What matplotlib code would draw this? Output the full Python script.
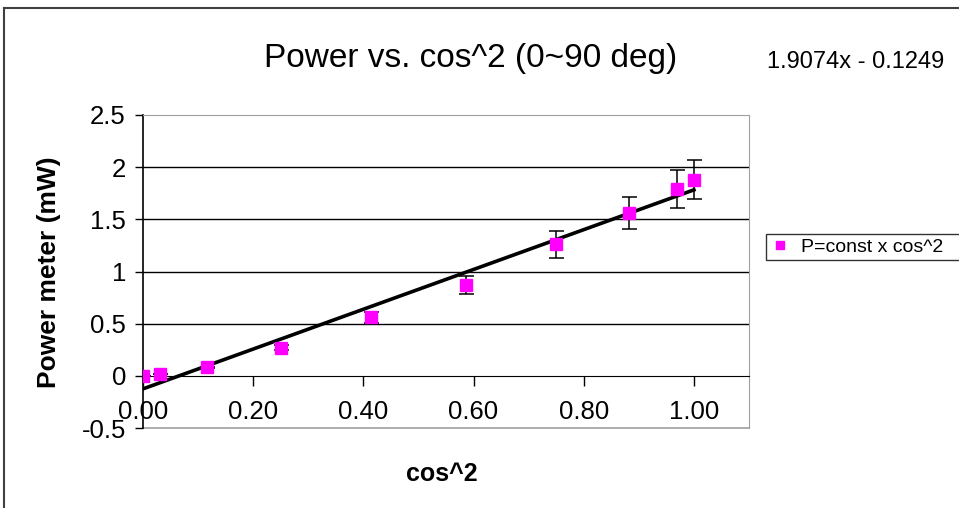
import numpy as np
import matplotlib
matplotlib.use("Agg")
import matplotlib.pyplot as plt
from matplotlib.lines import Line2D

plt.rcParams.update({
    "font.family": ["Liberation Sans", "DejaVu Sans"],
    "figure.facecolor": "white", "axes.facecolor": "white",
})

# cos^2 of 90, 80, ..., 0 degrees and the measured power (mW)
cos2 = [0.0, 0.030, 0.117, 0.250, 0.413, 0.587, 0.750, 0.883, 0.970, 1.000]
power = [0.00, 0.02, 0.08, 0.27, 0.56, 0.87, 1.26, 1.56, 1.79, 1.88]
power_err = [0.0, 0.002, 0.008, 0.027, 0.056, 0.087, 0.126, 0.156, 0.179, 0.188]
fit_coef = [1.9074, -0.1249]
fit_x = [0.0, 1.0]
yticks = [-0.5, 0, 0.5, 1, 1.5, 2, 2.5]
ytick_labels = ["-0.5", "0", "0.5", "1", "1.5", "2", "2.5"]
xticks = [0.0, 0.2, 0.4, 0.6, 0.8, 1.0]

W, H = 959, 508
fig = plt.figure(figsize=(W / 100, H / 100), dpi=100)
ax = fig.add_axes([143 / W, 1 - 428 / H, 606 / W, 313 / H])

# chart area border (only top and left visible)
fig.add_artist(Line2D([4 / W, 1.01], [1 - 8 / H, 1 - 8 / H], color="#404040", lw=1.5,
                      transform=fig.transFigure))
fig.add_artist(Line2D([4 / W, 4 / W], [-0.01, 1 - 8 / H], color="#404040", lw=1.5,
                      transform=fig.transFigure))

ax.set_xlim(0, 1.1)
ax.set_ylim(-0.5, 2.5)
for y in [0.5, 1, 1.5, 2]:
    ax.axhline(y, color="black", lw=1.0, zorder=1)
ax.axhline(-0.5, color="#a0a0a0", lw=1.2, zorder=1, clip_on=False)

ax.spines["top"].set_color("#a0a0a0")
ax.spines["right"].set_color("#a0a0a0")
ax.spines["bottom"].set_position(("data", 0))
ax.spines["bottom"].set_color("black")
ax.spines["left"].set_color("black")
ax.spines["left"].set_linewidth(1.2)

fx = np.array(fit_x)
ax.plot(fx, np.polyval(fit_coef, fx), color="black", lw=2.6, zorder=3)
ax.errorbar(cos2, power, yerr=power_err, fmt="none", ecolor="black", elinewidth=1.1,
            capsize=5.4, capthick=1.1, zorder=4)
ax.plot(cos2, power, "s", color="#ff00ff", ms=9, mec="#ff00ff", zorder=5)

ax.set_xticks(xticks)
ax.set_xticklabels([f"{v:.2f}" for v in xticks])
ax.set_yticks(yticks)
ax.set_yticklabels(ytick_labels)
ax.tick_params(axis="x", direction="out", length=7.2, width=1, labelsize=18.5, pad=10)
ax.tick_params(axis="y", direction="out", length=5.8, width=1, labelsize=18.5, pad=6.5)

fig.text(471 / W, 1 - 67 / H, "Power vs. cos^2 (0~90 deg)", fontsize=24, ha="center",
         va="baseline")
fig.text(767 / W, 1 - 68 / H, "1.9074x - 0.1249", fontsize=17, ha="left", va="baseline")
fig.text(442 / W, 1 - 481 / H, "cos^2", fontsize=18, weight="bold", ha="center",
         va="baseline")
fig.text(49 / W, 1 - 272 / H, "Power meter (mW)", fontsize=19, weight="bold", ha="center",
         va="center", rotation=90)

# legend box runs off the right edge, as in the source
handle = Line2D([], [], ls="none", marker="s", color="#ff00ff", ms=6)
leg = fig.legend([handle], ["P=const x cos^2"], loc="center left", mode="expand",
                 bbox_to_anchor=(766 / W, 1 - 247 / H, 0.21, 0), fontsize=14, frameon=True,
                 fancybox=False, edgecolor="black", handlelength=1.0, handletextpad=0.6,
                 borderpad=0.2, borderaxespad=0)
leg.get_frame().set_linewidth(1.0)

fig.savefig("out.png", dpi=100)
